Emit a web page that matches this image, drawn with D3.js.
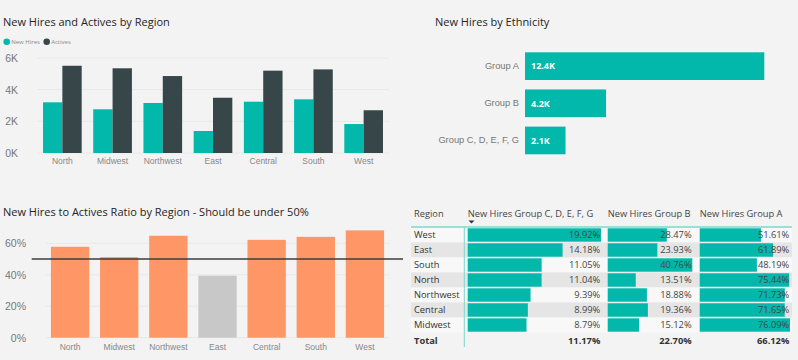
<!DOCTYPE html>
<html>
<head>
<meta charset="utf-8">
<script src="https://cdn.jsdelivr.net/npm/d3@7"></script>
<style>
  body { margin: 0; background: #f3f3f3; }
  svg { display: block; font-family: "Segoe UI", "Open Sans", sans-serif; }
  .title { font-size: 11px; fill: #252423; }
  .domain { display: none; }
</style>
</head>
<body>
<svg width="798" height="360"></svg>
<script>
// --- data ---
const regions = ["North", "Midwest", "Northwest", "East", "Central", "South", "West"];
const seriesNames = ["New Hires", "Actives"];
const newHires = [3200, 2760, 3160, 1390, 3240, 3390, 1830];
const actives = [5510, 5350, 4860, 3490, 5200, 5280, 2700];
const hiresTicks = [0, 2000, 4000, 6000];

const groups = ["Group A", "Group B", "Group C, D, E, F, G"];
const groupHires = [12400, 4200, 2100];

const ratios = [0.578, 0.512, 0.648, 0.394, 0.622, 0.641, 0.682];
const ratioTicks = [0, 0.2, 0.4, 0.6];
const ratioTarget = 0.5;

const tableRegions = ["West", "East", "South", "North", "Northwest", "Central", "Midwest"];
const tableColumns = ["New Hires Group C, D, E, F, G", "New Hires Group B", "New Hires Group A"];
const pctGroupCDEFG = [19.92, 14.18, 11.05, 11.04, 9.39, 8.99, 8.79];
const pctGroupB = [28.47, 23.93, 40.76, 13.51, 18.88, 19.36, 15.12];
const pctGroupA = [51.61, 61.89, 48.19, 75.44, 71.73, 71.65, 76.09];
const pctTotals = [11.17, 22.70, 66.12];

const teal = "#01b8aa";
const dark = "#374649";
const orange = "#fe9666";
const grey = "#c8c8c8";

const svg = d3.select("svg");

function styleAxis(sel, size, color) {
  sel.selectAll("text").attr("font-size", size).attr("font-family", null).attr("fill", color);
}

// New Hires and Actives by Region
function drawHires() {
  const g = svg.append("g");
  g.append("text").attr("class", "title").attr("x", 3).attr("y", 26)
    .text("New Hires and Actives by Region");

  const legendX = [6.7, 46.7];
  const legend = g.selectAll("g.legend").data(seriesNames).join("g")
    .attr("class", "legend")
    .attr("transform", (d, i) => `translate(${legendX[i]}, 41.7)`);
  legend.append("circle").attr("r", 3.3).attr("fill", (d, i) => (i === 0 ? teal : dark));
  legend.append("text").attr("x", 4.5).attr("y", 2.1)
    .attr("font-size", 6).attr("fill", "#888").text((d) => d);

  const x0 = d3.scaleBand().domain(regions).range([37, 389]).paddingInner(0.23).paddingOuter(0.12);
  const x1 = d3.scaleBand().domain(seriesNames).range([0, x0.bandwidth()]);
  const y = d3.scaleLinear().domain([0, 6000]).range([153, 58]);

  g.append("g").selectAll("line").data(hiresTicks).join("line")
    .attr("x1", 37).attr("x2", 389)
    .attr("y1", (d) => y(d)).attr("y2", (d) => y(d))
    .attr("stroke", "#e8e8e8");

  const rows = regions.map((r, i) => ({ region: r, values: [newHires[i], actives[i]] }));
  g.append("g").selectAll("g").data(rows).join("g")
    .attr("transform", (d) => `translate(${x0(d.region)}, 0)`)
    .selectAll("rect")
    .data((d) => d.values.map((v, i) => ({ key: seriesNames[i], value: v })))
    .join("rect")
    .attr("x", (d) => x1(d.key))
    .attr("y", (d) => y(d.value))
    .attr("width", x1.bandwidth())
    .attr("height", (d) => y(0) - y(d.value))
    .attr("fill", (d) => (d.key === "New Hires" ? teal : dark));

  g.append("g").attr("transform", "translate(20, 0)")
    .call(d3.axisLeft(y).tickValues(hiresTicks).tickSize(0).tickPadding(2).tickFormat((d) => d / 1000 + "K"))
    .call(styleAxis, 10.5, "#777");

  g.append("g").attr("transform", "translate(0, 153)")
    .call(d3.axisBottom(x0).tickSize(0).tickPadding(5))
    .call(styleAxis, 8.5, "#888");
}

// New Hires by Ethnicity
function drawEthnicity() {
  const g = svg.append("g");
  g.append("text").attr("class", "title").attr("x", 435).attr("y", 26)
    .text("New Hires by Ethnicity");

  const x = d3.scaleLinear().domain([0, d3.max(groupHires)]).range([525, 764.3]);
  const y = d3.scaleBand().domain(groups).range([47.6, 159]).paddingInner(0.255).paddingOuter(0.127);
  const data = groups.map((k, i) => ({ key: k, value: groupHires[i] }));

  g.append("g").selectAll("rect").data(data).join("rect")
    .attr("x", x(0))
    .attr("y", (d) => y(d.key))
    .attr("width", (d) => x(d.value) - x(0))
    .attr("height", y.bandwidth())
    .attr("fill", teal);

  g.append("g").selectAll("text").data(data).join("text")
    .attr("x", x(0) + 6)
    .attr("y", (d) => y(d.key) + y.bandwidth() / 2 + 3.2)
    .attr("font-size", 9)
    .attr("font-weight", "bold")
    .attr("fill", "#fff")
    .text((d) => d3.format(".1f")(d.value / 1000) + "K");

  g.append("g").attr("transform", "translate(522, 0)")
    .call(d3.axisLeft(y).tickSize(0).tickPadding(3))
    .call(styleAxis, 9.3, "#777");
}

// New Hires to Actives Ratio by Region
function drawRatio() {
  const g = svg.append("g");
  g.append("text").attr("class", "title").attr("x", 3).attr("y", 216)
    .text("New Hires to Actives Ratio by Region - Should be under 50%");

  const x = d3.scaleBand().domain(regions).range([45.5, 389.5]).paddingInner(0.22).paddingOuter(0.11);
  const y = d3.scaleLinear().domain([0, 0.6]).range([337.7, 243.3]);
  const data = regions.map((r, i) => ({ region: r, value: ratios[i] }));

  g.append("g").selectAll("line").data(ratioTicks).join("line")
    .attr("x1", 45.5).attr("x2", 389.5)
    .attr("y1", (d) => y(d)).attr("y2", (d) => y(d))
    .attr("stroke", "#e8e8e8");

  g.append("g").selectAll("rect").data(data).join("rect")
    .attr("x", (d) => x(d.region))
    .attr("y", (d) => y(d.value))
    .attr("width", x.bandwidth())
    .attr("height", (d) => y(0) - y(d.value))
    .attr("fill", (d) => (d.value < ratioTarget ? grey : orange));

  g.append("line")
    .attr("x1", 31.7).attr("x2", 403)
    .attr("y1", y(ratioTarget)).attr("y2", y(ratioTarget))
    .attr("stroke", "#3c3c3c").attr("stroke-width", 1.4);

  g.append("g").attr("transform", "translate(26, 0)")
    .call(d3.axisLeft(y).tickValues(ratioTicks).tickSize(0).tickPadding(0).tickFormat(d3.format(".0%")))
    .call(styleAxis, 10.5, "#777");

  g.append("g").attr("transform", "translate(0, 337.7)")
    .call(d3.axisBottom(x).tickSize(0).tickPadding(6))
    .call(styleAxis, 8.5, "#888");
}

// matrix with data bars
function drawTable() {
  const g = svg.append("g").attr("font-size", 9.3);
  const colStart = [467.7, 607.7, 699.7];
  const colEnd = [601, 692.3, 790];
  const columns = [pctGroupCDEFG, pctGroupB, pctGroupA];
  const y = d3.scaleBand().domain(tableRegions).range([227.5, 332.5]);
  const fmt = (v) => v.toFixed(2) + "%";

  g.append("g").selectAll("rect").data(tableRegions).join("rect")
    .attr("x", 411).attr("width", 381)
    .attr("y", (d) => y(d)).attr("height", y.bandwidth())
    .attr("fill", (d, i) => (i % 2 ? "#e5e5e5" : "#f8f8f8"));

  // headers
  g.append("text").attr("x", 414).attr("y", 217).attr("fill", "#444").text("Region");
  g.append("g").selectAll("text").data(tableColumns).join("text")
    .attr("x", (d, i) => colStart[i])
    .attr("y", 217)
    .attr("fill", "#444")
    .text((d) => d);
  g.append("path").attr("d", "M468.5,220.5h6l-3,3z").attr("fill", "#333");
  g.append("line").attr("x1", 411).attr("x2", 792).attr("y1", 227).attr("y2", 227)
    .attr("stroke", "#7fd6cf").attr("stroke-width", 1.5);
  g.append("line").attr("x1", 464.3).attr("x2", 464.3).attr("y1", 227).attr("y2", 347)
    .attr("stroke", "#7fd6cf").attr("stroke-width", 1);

  // row labels
  g.append("g").selectAll("text").data(tableRegions).join("text")
    .attr("x", 414)
    .attr("y", (d) => y(d) + y.bandwidth() / 2 + 3.3)
    .attr("fill", "#333")
    .text((d) => d);

  columns.forEach((values, c) => {
    const x = d3.scaleLinear().domain([0, d3.max(values)]).range([colStart[c], colEnd[c]]);
    const cells = tableRegions.map((r, i) => ({ region: r, value: values[i] }));
    const col = g.append("g");
    col.selectAll("rect").data(cells).join("rect")
      .attr("x", x(0))
      .attr("y", (d) => y(d.region) + 0.8)
      .attr("width", (d) => x(d.value) - x(0))
      .attr("height", y.bandwidth() - 1.6)
      .attr("fill", teal);
    col.selectAll("text").data(cells).join("text")
      .attr("x", colEnd[c] - 0.7)
      .attr("y", (d) => y(d.region) + y.bandwidth() / 2 + 3.3)
      .attr("text-anchor", "end")
      .attr("fill", "#444")
      .text((d) => fmt(d.value));
    g.append("text")
      .attr("x", colEnd[c] - 0.7).attr("y", 343.5)
      .attr("text-anchor", "end").attr("font-weight", "bold").attr("fill", "#333")
      .text(fmt(pctTotals[c]));
  });
  g.append("text").attr("x", 414).attr("y", 343.5)
    .attr("font-weight", "bold").attr("fill", "#333").text("Total");
}

drawHires();
drawEthnicity();
drawRatio();
drawTable();
</script>
</body>
</html>
